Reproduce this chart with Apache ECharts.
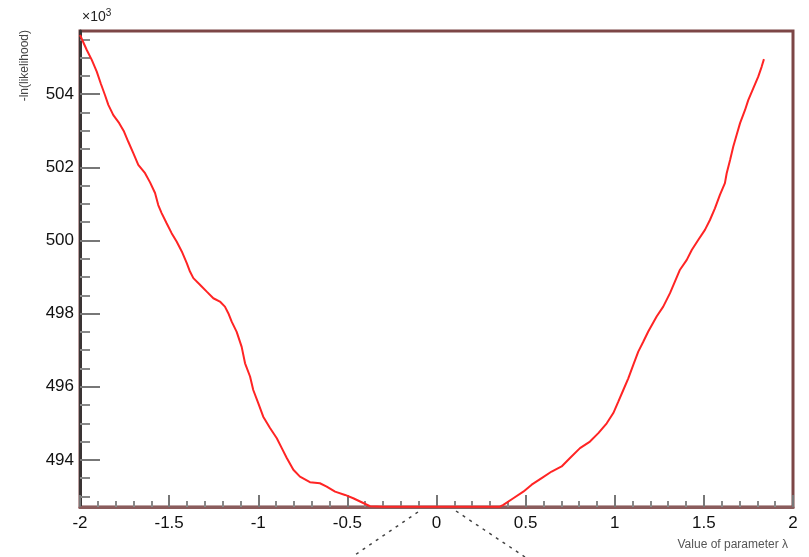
<!DOCTYPE html>
<html>
<head>
<meta charset="utf-8">
<script src="https://cdn.jsdelivr.net/npm/echarts@6/dist/echarts.min.js"></script>
<style>
  html, body { margin: 0; padding: 0; background: #ffffff; }
  #chart { width: 809px; height: 557px; }
</style>
</head>
<body>
<div id="chart"></div>
<script>
// parameter value (x) and -ln(likelihood) in units of 10^3 (y)
const paramValues = [
  -2.0, -1.962, -1.934, -1.906, -1.884, -1.86, -1.841, -1.813, -1.78, -1.753,
  -1.729, -1.701, -1.673, -1.635, -1.607, -1.579, -1.561, -1.542, -1.514, -1.486,
  -1.458, -1.429, -1.401, -1.383, -1.364, -1.327, -1.289, -1.252, -1.215, -1.187,
  -1.168, -1.149, -1.121, -1.093, -1.074, -1.046, -1.028, -1.0, -0.972, -0.934,
  -0.896, -0.868, -0.84, -0.803, -0.766, -0.71, -0.654, -0.616, -0.569, -0.513,
  -0.467, -0.411, -0.373, -0.3, -0.2, -0.1, 0.0, 0.1, 0.2, 0.3,
  0.356, 0.375, 0.431, 0.487, 0.534, 0.59, 0.646, 0.702, 0.749, 0.805,
  0.861, 0.908, 0.955, 0.992, 1.02, 1.048, 1.076, 1.104, 1.132, 1.16,
  1.188, 1.235, 1.272, 1.31, 1.338, 1.366, 1.404, 1.432, 1.469, 1.506,
  1.534, 1.562, 1.59, 1.618, 1.628, 1.647, 1.665, 1.684, 1.703, 1.731,
  1.749, 1.777, 1.805, 1.824, 1.837
];
const nllValues = [
  505.62, 505.21, 504.94, 504.62, 504.30, 503.98, 503.71, 503.43, 503.21, 502.98,
  502.70, 502.39, 502.07, 501.84, 501.59, 501.30, 500.97, 500.75, 500.47, 500.20,
  499.97, 499.70, 499.38, 499.15, 498.97, 498.79, 498.60, 498.42, 498.33, 498.19,
  498.01, 497.78, 497.50, 497.09, 496.64, 496.28, 495.91, 495.55, 495.18, 494.87,
  494.59, 494.32, 494.05, 493.73, 493.54, 493.39, 493.36, 493.27, 493.13, 493.04,
  492.95, 492.82, 492.73, 492.72, 492.72, 492.72, 492.72, 492.72, 492.72, 492.72,
  492.72, 492.77, 492.95, 493.13, 493.32, 493.50, 493.68, 493.82, 494.05, 494.32,
  494.50, 494.73, 495.00, 495.28, 495.59, 495.91, 496.23, 496.60, 496.96, 497.23,
  497.51, 497.92, 498.19, 498.56, 498.88, 499.20, 499.47, 499.74, 500.02, 500.29,
  500.56, 500.88, 501.25, 501.57, 501.84, 502.20, 502.57, 502.89, 503.21, 503.57,
  503.84, 504.16, 504.48, 504.75, 504.96
];

const yMajorTicks = [494, 496, 498, 500, 502, 504];
const yMinorTicks = [
  493, 493.5, 494.5, 495, 495.5, 496.5, 497, 497.5, 498.5, 499, 499.5,
  500.5, 501, 501.5, 502.5, 503, 503.5, 504.5, 505, 505.5
];
const yRange = [492.71, 505.73];
const xRange = [-2, 2];

const yTitle = "-ln(likelihood)";
const xTitle = "Value of parameter λ";

const font = "'Liberation Sans', Arial, sans-serif";
const chart = echarts.init(document.getElementById("chart"), null, { renderer: "canvas" });

chart.setOption({
  animation: false,
  backgroundColor: "#ffffff",
  grid: {
    left: 80, right: 16, top: 31, bottom: 50,
    show: true, borderColor: "#7d4646", borderWidth: 3, backgroundColor: "transparent"
  },
  xAxis: {
    type: "value",
    min: xRange[0],
    max: xRange[1],
    interval: 0.5,
    axisLine: { show: true, onZero: false, lineStyle: { color: "#8a5c5c", width: 3 } },
    axisTick: { show: true, inside: true, length: 12, lineStyle: { color: "#777777", width: 2 } },
    minorTick: { show: true, splitNumber: 5, length: 6, lineStyle: { color: "#888888", width: 2 } },
    axisLabel: { color: "#111111", fontSize: 17, fontFamily: font, margin: 8 },
    splitLine: { show: false }
  },
  yAxis: [
    {
      type: "value",
      min: yRange[0],
      max: yRange[1],
      position: "left",
      axisLine: { show: true, onZero: false, lineStyle: { color: "#3a3434", width: 3 } },
      axisTick: { show: true, inside: true, length: 20, customValues: yMajorTicks, lineStyle: { color: "#777777", width: 2 } },
      axisLabel: { customValues: yMajorTicks, color: "#111111", fontSize: 17, fontFamily: font, margin: 6 },
      splitLine: { show: false }
    },
    {
      type: "value",
      min: yRange[0],
      max: yRange[1],
      position: "left",
      axisLine: { show: false, onZero: false },
      axisTick: { show: true, inside: true, length: 10, customValues: yMinorTicks, lineStyle: { color: "#888888", width: 2 } },
      axisLabel: { show: false },
      splitLine: { show: false }
    }
  ],
  series: [
    {
      type: "line",
      yAxisIndex: 0,
      data: paramValues.map((x, i) => [x, nllValues[i]]),
      showSymbol: false,
      lineStyle: { color: "#ff2424", width: 2 },
      z: 1
    }
  ],
  graphic: [
    {
      type: "text", x: 25, y: 30, rotation: Math.PI / 2,
      style: { text: yTitle, fill: "#444444", font: "12px " + font, align: "right", verticalAlign: "middle" }
    },
    {
      type: "text", x: 82, y: 26,
      style: {
        text: "{a|×10}{b|3}",
        verticalAlign: "bottom",
        rich: {
          a: { fontSize: 14, fontFamily: font, fill: "#222222" },
          b: { fontSize: 10, fontFamily: font, fill: "#222222", padding: [0, 0, 8, 0] }
        }
      }
    },
    {
      type: "text", x: 788, y: 545,
      style: { text: xTitle, fill: "#555555", font: "12px " + font, align: "right", verticalAlign: "middle" }
    },
    {
      type: "line", shape: { x1: 418, y1: 512, x2: 352, y2: 557 },
      style: { stroke: "#444444", lineWidth: 1.5, lineDash: [3, 5] }
    },
    {
      type: "line", shape: { x1: 456, y1: 511, x2: 525, y2: 557 },
      style: { stroke: "#444444", lineWidth: 1.5, lineDash: [3, 5] }
    }
  ]
});
</script>
</body>
</html>
